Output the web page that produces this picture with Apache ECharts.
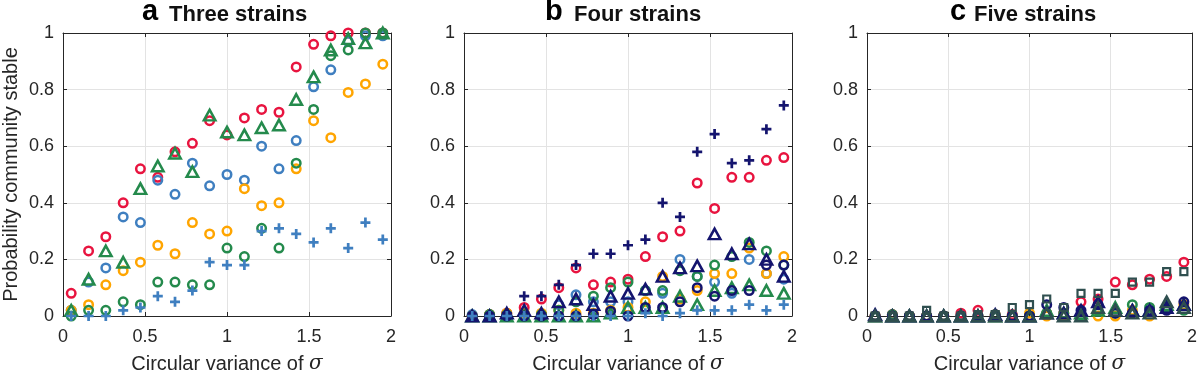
<!DOCTYPE html>
<html>
<head>
<meta charset="utf-8">
<script src="https://cdn.jsdelivr.net/npm/echarts@6/dist/echarts.min.js"></script>
<style>
html,body{margin:0;padding:0;background:#fff;}
#chart{width:1200px;height:379px;}
</style>
</head>
<body>
<div id="chart"></div>
<script>
// x positions (circular variance of sigma)
const xVals = [0.05,0.156,0.261,0.367,0.472,0.578,0.683,0.789,0.894,1.0,1.106,1.211,1.317,1.422,1.528,1.633,1.739,1.844,1.95];
const xTickLabels = ['0','0.5','1','1.5','2'];
const yTickLabels = ['0','0.2','0.4','0.6','0.8','1'];
const panelLetters = ['a','b','c'];
const panelTitles = ['Three strains','Four strains','Five strains'];

// Panel a: three strains
const aRedCircle    = [0.08,0.23,0.28,0.40,0.52,0.49,0.58,0.61,0.69,0.64,0.70,0.73,0.72,0.88,0.96,0.99,1.00,1.00,1.00];
const aBlueCircle   = [0.02,0.12,0.17,0.35,0.33,0.48,0.43,0.54,0.46,0.50,0.48,0.60,0.52,0.62,0.81,0.87,0.97,0.99,0.99];
const aOrangeCircle = [0.02,0.04,0.11,0.16,0.19,0.25,0.22,0.33,0.29,0.30,0.45,0.39,0.40,0.52,0.69,0.63,0.79,0.82,0.89];
const aGreenCircle  = [0.00,0.02,0.02,0.05,0.04,0.12,0.12,0.11,0.11,0.24,0.21,0.31,0.24,0.54,0.73,0.92,0.94,1.00,1.00];
const aGreenTri     = [0.02,0.13,0.23,0.19,0.45,0.53,0.575,0.51,0.71,0.65,0.64,0.665,0.675,0.765,0.845,0.94,0.98,0.965,1.00];
const aBluePlus     = [0.00,0.00,0.00,0.02,0.03,0.07,0.05,0.09,0.19,0.18,0.18,0.30,0.31,0.29,0.26,0.31,0.24,0.33,0.27];

// Panel b: four strains
const bRedCircle    = [0.00,0.005,0.01,0.03,0.06,0.10,0.17,0.11,0.12,0.13,0.21,0.28,0.30,0.47,0.38,0.49,0.49,0.55,0.56];
const bBlueCircle   = [0.005,0.005,0.00,0.01,0.00,0.04,0.075,0.05,0.05,0.05,0.09,0.08,0.20,0.14,0.12,0.08,0.20,0.15,0.13];
const bOrangeCircle = [0.00,0.005,0.01,0.01,0.01,0.02,0.01,0.01,0.02,0.03,0.05,0.14,0.06,0.09,0.15,0.15,0.24,0.15,0.21];
const bGreenCircle  = [0.00,0.005,0.005,0.00,0.005,0.02,0.05,0.07,0.10,0.12,0.09,0.09,0.16,0.14,0.18,0.21,0.26,0.23,0.18];
const bGreenTri     = [0.00,0.00,0.00,0.00,0.00,0.00,0.00,0.00,0.01,0.03,0.03,0.03,0.07,0.04,0.09,0.10,0.11,0.09,0.08];
const bNavyTri      = [0.00,0.00,0.01,0.02,0.01,0.05,0.06,0.04,0.07,0.08,0.095,0.14,0.17,0.177,0.29,0.22,0.255,0.20,0.14];
const bNavyCircle   = [0.00,0.00,0.00,0.00,0.00,0.00,0.00,0.005,0.017,0.00,0.03,0.03,0.05,0.10,0.07,0.09,0.09,0.18,0.18];
const bNavyPlus     = [0.00,0.00,0.01,0.07,0.07,0.11,0.18,0.22,0.22,0.25,0.27,0.40,0.35,0.58,0.643,0.54,0.55,0.66,0.744];
const bBluePlus     = [0.00,0.00,0.00,0.00,0.00,0.00,0.00,0.00,0.00,0.00,0.01,0.00,0.01,0.02,0.02,0.02,0.04,0.02,0.04];

// Panel c: five strains
const cRedCircle    = [0.00,0.005,0.00,0.00,0.00,0.01,0.02,0.005,0.005,0.00,0.01,0.01,0.05,0.06,0.12,0.11,0.13,0.14,0.19];
const cSlateSquare  = [0.00,0.00,0.00,0.02,0.00,0.00,0.005,0.005,0.03,0.04,0.06,0.03,0.08,0.08,0.08,0.12,0.12,0.157,0.157];
const cNavyCircle   = [0.00,0.00,0.00,0.00,0.00,0.00,0.00,0.00,0.00,0.00,0.04,0.03,0.02,0.04,0.01,0.01,0.02,0.02,0.05];
const cGreenCircle  = [0.00,0.005,0.00,0.00,0.00,0.00,0.00,0.005,0.00,0.00,0.01,0.01,0.00,0.02,0.01,0.04,0.03,0.03,0.02];
const cGreenTri     = [0.00,0.00,0.00,0.00,0.00,0.00,0.00,0.00,0.00,0.00,0.02,0.01,0.01,0.02,0.03,0.02,0.02,0.04,0.04];
const cNavyTri      = [0.005,0.00,0.00,0.00,0.00,0.00,0.00,0.005,0.00,0.00,0.01,0.01,0.02,0.05,0.02,0.02,0.02,0.03,0.04];
const cOrangeCircle = [0.00,0.00,0.00,0.00,0.00,0.00,0.00,0.00,0.00,0.01,0.00,0.00,0.00,0.00,0.00,0.02,0.00,0.03,0.04];
const cSlateTri     = [0.00,0.00,0.00,0.00,0.00,0.00,0.00,0.00,0.00,0.00,0.01,0.00,0.00,0.03,0.02,0.01,0.01,0.05,0.03];

const C = {
  red:'#e8143f', blue:'#3f7fc0', orange:'#ffa500', green:'#248a4c',
  navy:'#14146e', slate:'#2f4f4f'
};
const PLUS = 'path://M4,0H7V4H11V7H7V11H4V7H0V4H4Z';
const FONT = '"Liberation Sans", Arial, sans-serif';

function mk(gi, ys, shape, color) {
  let symbol = 'circle', size = 8.5, item = {color:'rgba(0,0,0,0)', borderColor:color, borderWidth:2.5, opacity:1};
  if (shape === 'tri') { symbol = 'triangle'; size = [11.5,10.5]; }
  if (shape === 'sq') { symbol = 'rect'; size = 7; item = {color:'rgba(0,0,0,0)', borderColor:color, borderWidth:2.2, opacity:1}; }
  if (shape === 'plus') { symbol = PLUS; size = 10; item = {color:color, borderWidth:0, opacity:1}; }
  return {
    type:'scatter', xAxisIndex:gi, yAxisIndex:gi, symbol:symbol, symbolSize:size,
    itemStyle:item, clip:false, silent:true, animation:false,
    data: xVals.map((x,i)=>[x, ys[i]])
  };
}

const grids = [
  {left:62, top:33, width:329, height:288},
  {left:464, top:33, width:328, height:288},
  {left:867, top:33, width:328, height:288}
];

const xAxes = [], yAxes = [];
grids.forEach((g,i)=>{
  xAxes.push({
    type:'value', gridIndex:i, min:0, max:2, interval:0.5,
    axisLine:{show:true, onZero:false, lineStyle:{color:'#262626', width:1}},
    axisTick:{show:true, inside:true, length:4, lineStyle:{color:'#262626'}},
    splitLine:{show:true, lineStyle:{color:'#e3e3e3', width:1}},
    axisLabel:{color:'#262626', fontSize:18, fontFamily:FONT, margin:12,
      formatter:(v)=>xTickLabels[Math.round(v/0.5)]},
    name:'Circular variance of {i|σ}', nameLocation:'middle', nameGap:38,
    nameTextStyle:{color:'#262626', fontSize:20, fontFamily:FONT,
      rich:{i:{fontStyle:'italic', fontFamily:'"DejaVu Serif", serif', fontSize:20, color:'#262626'}}}
  });
  xAxes.push({
    type:'value', gridIndex:i, min:0, max:2, interval:0.5, position:'top',
    axisLine:{show:true, onZero:false, lineStyle:{color:'#262626', width:1}},
    axisTick:{show:true, inside:true, length:4, lineStyle:{color:'#262626'}},
    splitLine:{show:false}, axisLabel:{show:false}
  });
  const y = {
    type:'value', gridIndex:i, min:0, max:1, interval:0.2,
    axisLine:{show:true, onZero:false, lineStyle:{color:'#262626', width:1}},
    axisTick:{show:true, inside:true, length:4, lineStyle:{color:'#262626'}},
    splitLine:{show:true, lineStyle:{color:'#e3e3e3', width:1}},
    axisLabel:{color:'#262626', fontSize:18, fontFamily:FONT, margin:9,
      formatter:(v)=>yTickLabels[Math.round(v/0.2)]}
  };
  if (i === 0) {
    y.name = 'Probability community stable';
    y.nameLocation = 'middle';
    y.nameGap = 42;
    y.nameTextStyle = {color:'#262626', fontSize:20, fontFamily:FONT};
  }
  yAxes.push(y);
  yAxes.push({
    type:'value', gridIndex:i, min:0, max:1, interval:0.2, position:'right',
    axisLine:{show:true, onZero:false, lineStyle:{color:'#262626', width:1}},
    axisTick:{show:true, inside:true, length:4, lineStyle:{color:'#262626'}},
    splitLine:{show:false}, axisLabel:{show:false}
  });
});

function S(p, ys, shape, color){ return mk(p*2, ys, shape, color); }

const series = [
  S(0,aRedCircle,'circle',C.red),
  S(0,aBlueCircle,'circle',C.blue),
  S(0,aOrangeCircle,'circle',C.orange),
  S(0,aGreenCircle,'circle',C.green),
  S(0,aGreenTri,'tri',C.green),
  S(0,aBluePlus,'plus',C.blue),

  S(1,bRedCircle,'circle',C.red),
  S(1,bBlueCircle,'circle',C.blue),
  S(1,bOrangeCircle,'circle',C.orange),
  S(1,bGreenCircle,'circle',C.green),
  S(1,bGreenTri,'tri',C.green),
  S(1,bNavyTri,'tri',C.navy),
  S(1,bNavyCircle,'circle',C.navy),
  S(1,bNavyPlus,'plus',C.navy),
  S(1,bBluePlus,'plus',C.blue),

  S(2,cRedCircle,'circle',C.red),
  S(2,cOrangeCircle,'circle',C.orange),
  S(2,cGreenCircle,'circle',C.green),
  S(2,cGreenTri,'tri',C.green),
  S(2,cNavyCircle,'circle',C.navy),
  S(2,cNavyTri,'tri',C.navy),
  S(2,cSlateTri,'tri',C.slate),
  S(2,cSlateSquare,'sq',C.slate)
];

const letterX = [142, 545, 950];
const titleX = [169, 574, 974];
const titles = [];
panelLetters.forEach((L,i)=>{
  titles.push({text:L, left:letterX[i], top:-3, padding:0,
    textStyle:{fontSize:29, fontWeight:'bold', fontFamily:FONT, color:'#000'}});
  titles.push({text:panelTitles[i], left:titleX[i], top:4, padding:0,
    textStyle:{fontSize:22, fontWeight:'bold', fontFamily:FONT, color:'#111'}});
});

const chart = echarts.init(document.getElementById('chart'), null, {renderer:'canvas'});
chart.setOption({
  animation:false,
  backgroundColor:'#fff',
  title: titles,
  grid: grids,
  xAxis: xAxes,
  yAxis: yAxes,
  series: series
});
</script>
</body>
</html>
